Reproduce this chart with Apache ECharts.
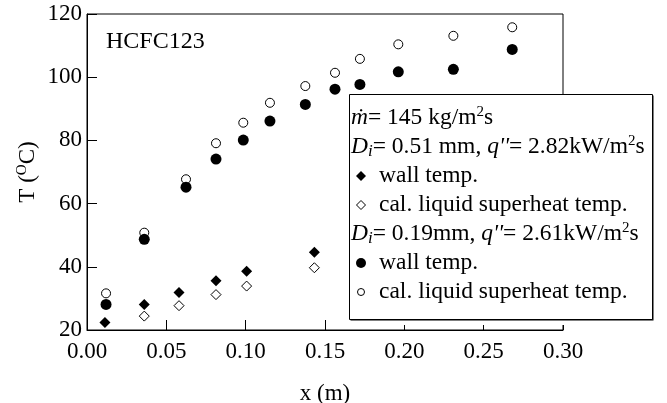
<!DOCTYPE html>
<html>
<head>
<meta charset="utf-8">
<script src="https://cdn.jsdelivr.net/npm/echarts@6/dist/echarts.min.js"></script>
<style>
html,body{margin:0;padding:0;background:#fff;}
#chart{width:667px;height:403px;}
</style>
</head>
<body>
<div id="chart"></div>
<script>
// ---- data ----
const xTicks = [0.00, 0.05, 0.10, 0.15, 0.20, 0.25, 0.30];
const yTicks = [20, 40, 60, 80, 100, 120];

// Di = 0.51 mm
const xWall051 = [0.0113, 0.0361, 0.058, 0.0813, 0.1006, 0.1433];
const yWall051 = [22.4, 28.1, 31.9, 35.6, 38.6, 44.6];
const xSup051 = [0.0361, 0.058, 0.0813, 0.1006, 0.1433];
const ySup051 = [24.4, 27.7, 31.2, 33.9, 39.7];

// Di = 0.19 mm
const x019 = [0.012, 0.0361, 0.0624, 0.0813, 0.0985, 0.1153, 0.1376, 0.1563, 0.172, 0.1962, 0.2309, 0.268];
const yWall019 = [28.1, 48.7, 65.2, 74.1, 80.1, 86.1, 91.4, 96.2, 97.7, 101.7, 102.5, 108.8];
const ySup019 = [31.6, 50.8, 67.7, 79.1, 85.6, 91.9, 97.2, 101.4, 105.8, 110.4, 113.1, 115.8];

const FONT = "'Liberation Serif', 'Times New Roman', serif";
const FS = 23;     // axis / label text
const LFS = 23.5;  // legend text

function pairs(xs, ys) { return xs.map((x, i) => [x, ys[i]]); }

const chart = echarts.init(document.getElementById('chart'), null, {renderer: 'canvas'});

const rich = {
  n: {fontFamily: FONT, fontSize: LFS, color: '#000', lineHeight: 27},
  it: {fontFamily: FONT, fontSize: LFS, fontStyle: 'italic', color: '#000', lineHeight: 27},
  sup: {fontFamily: FONT, fontSize: 15, color: '#000', lineHeight: 27, verticalAlign: 'top'},
  sub: {fontFamily: FONT, fontSize: 17, fontStyle: 'italic', color: '#000', lineHeight: 27, verticalAlign: 'bottom'}
};

function rowText(x, y, text) {
  return {
    type: 'text', x: x, y: y, z: 102,
    style: {text: text, rich: rich, verticalAlign: 'middle', align: 'left', fill: '#000',
            fontFamily: FONT, fontSize: LFS}
  };
}

const rows = [118, 147, 176, 205, 234, 263, 292];

const graphics = [
  {type: 'rect', z: 99, shape: {x: 349, y: 94, width: 306, height: 231},
   style: {fill: '#fff'}},
  {type: 'rect', z: 100, shape: {x: 350.5, y: 95.5, width: 303, height: 225},
   style: {fill: '#000'}},
  {type: 'rect', z: 101, shape: {x: 349.5, y: 94.5, width: 303, height: 225},
   style: {fill: '#fff', stroke: '#000', lineWidth: 1}},
  rowText(351, rows[0], '{it|ṁ}{n|= 145 kg/m}{sup|2}{n|s}'),
  rowText(351, rows[1], "{it|D}{sub|i}{n|= 0.51 mm, }{it|q''}{n|= 2.82kW/m}{sup|2}{n|s}"),
  {type: 'polygon', z: 102, shape: {points: [[361, rows[2] - 5], [366, rows[2]], [361, rows[2] + 5], [356, rows[2]]]},
   style: {fill: '#000'}},
  rowText(379, rows[2], '{n|wall temp.}'),
  {type: 'polygon', z: 102, shape: {points: [[361, rows[3] - 4.5], [365.5, rows[3]], [361, rows[3] + 4.5], [356.5, rows[3]]]},
   style: {fill: '#fff', stroke: '#000', lineWidth: 1}},
  rowText(379, rows[3], '{n|cal. liquid superheat temp.}'),
  rowText(351, rows[4], "{it|D}{sub|i}{n|= 0.19mm, }{it|q''}{n|= 2.61kW/m}{sup|2}{n|s}"),
  {type: 'circle', z: 102, shape: {cx: 361, cy: rows[5], r: 5}, style: {fill: '#000'}},
  rowText(379, rows[5], '{n|wall temp.}'),
  {type: 'circle', z: 102, shape: {cx: 361, cy: rows[6], r: 3.5}, style: {fill: '#fff', stroke: '#000', lineWidth: 1}},
  rowText(379, rows[6], '{n|cal. liquid superheat temp.}'),
  {type: 'text', z: 50, x: 106, y: 42,
   style: {text: 'HCFC123', fontFamily: FONT, fontSize: 24, fill: '#000', verticalAlign: 'middle', align: 'left'}},
  {type: 'text', z: 50, x: 28, y: 172, rotation: Math.PI / 2,
   style: {text: '{n|T (}{sup|O}{n|C)}', rich: {
     n: {fontFamily: FONT, fontSize: FS, color: '#000', lineHeight: 26},
     sup: {fontFamily: FONT, fontSize: 15, color: '#000', lineHeight: 26, verticalAlign: 'top'}
   }, align: 'center', verticalAlign: 'middle', fill: '#000', fontFamily: FONT, fontSize: FS}}
];

const axisCommon = {
  axisLine: {show: true, lineStyle: {color: '#000', width: 1}},
  axisTick: {show: true, inside: true, length: 10, lineStyle: {color: '#000', width: 1}},
  splitLine: {show: false},
  axisLabel: {color: '#000', fontFamily: FONT, fontSize: FS}
};

const option = {
  animation: false,
  backgroundColor: '#fff',
  textStyle: {fontFamily: FONT},
  grid: {left: 87, right: 104, top: 14, bottom: 73, containLabel: false, outerBoundsMode: 'none',
         show: true, borderColor: '#000', borderWidth: 1, backgroundColor: 'transparent'},
  xAxis: Object.assign({}, axisCommon, {
    type: 'value', min: 0, max: 0.3, interval: 0.05,
    axisLabel: Object.assign({}, axisCommon.axisLabel, {margin: 10, formatter: v => v.toFixed(2)}),
    name: 'x (m)', nameLocation: 'middle', nameGap: 52,
    nameTextStyle: {color: '#000', fontFamily: FONT, fontSize: FS}
  }),
  yAxis: Object.assign({}, axisCommon, {
    type: 'value', min: 20, max: 120, interval: 20,
    axisLabel: Object.assign({}, axisCommon.axisLabel, {margin: 5, formatter: v => String(v)})
  }),
  graphic: graphics,
  series: [
    {type: 'scatter', name: '0.51 sup', data: pairs(xSup051, ySup051), symbol: 'diamond', symbolSize: 10,
     itemStyle: {color: '#fff', borderColor: '#000', borderWidth: 1, opacity: 1}, z: 2},
    {type: 'scatter', name: '0.51 wall', data: pairs(xWall051, yWall051), symbol: 'diamond', symbolSize: 11,
     itemStyle: {color: '#000', opacity: 1}, z: 3},
    {type: 'scatter', name: '0.19 sup', data: pairs(x019, ySup019), symbol: 'circle', symbolSize: 9,
     itemStyle: {color: '#fff', borderColor: '#000', borderWidth: 1, opacity: 1}, z: 2},
    {type: 'scatter', name: '0.19 wall', data: pairs(x019, yWall019), symbol: 'circle', symbolSize: 11,
     itemStyle: {color: '#000', opacity: 1}, z: 3}
  ]
};
chart.setOption(option);
</script>
</body>
</html>
